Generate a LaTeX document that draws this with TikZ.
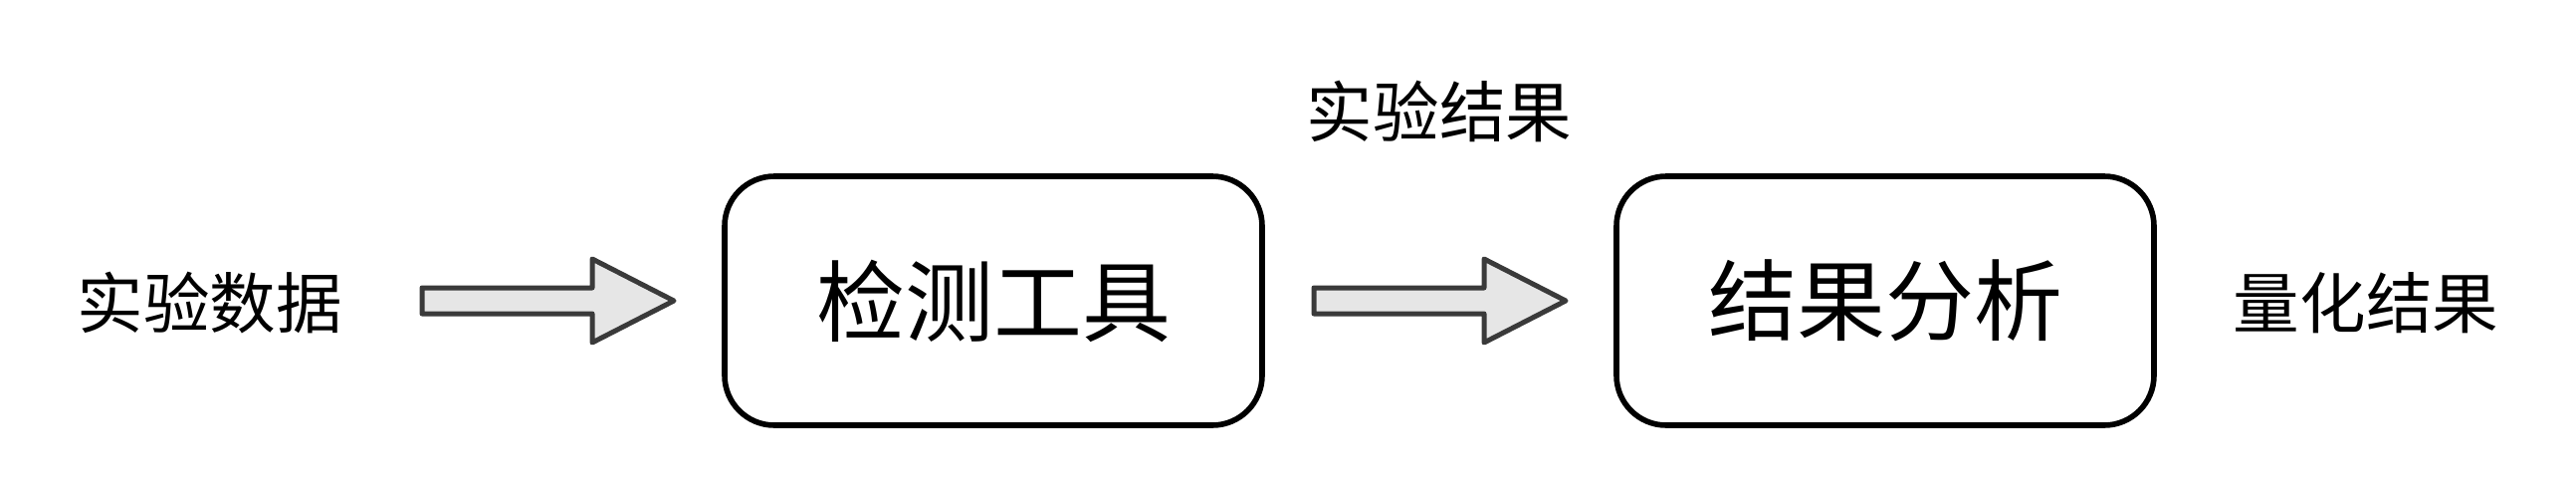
\documentclass[tikz,border=0pt]{standalone}
\usepackage{fontspec}
\newfontfamily\cjk{Noto Sans CJK SC}
\definecolor{arrowfill}{HTML}{E6E6E6}
\definecolor{arrowline}{HTML}{3A3A3A}
\tikzset{
  procbox/.style={draw=black, line width=2.8pt, rounded corners=25pt, minimum width=270pt, minimum height=125pt, inner sep=0pt, font=\cjk\fontsize{44.5pt}{50pt}\selectfont},
  lbl/.style={inner sep=0pt, font=\cjk\fontsize{33.3pt}{38pt}\selectfont},
  blockarrow/.style={draw=arrowline, fill=arrowfill, line width=2.5pt, line join=round},
  pics/fatarrow/.style={code={
    \draw[blockarrow] (0,-13) -- (171,-13) -- (171,-42) -- (253,0) -- (171,42) -- (171,13) -- (0,13) -- cycle;
  }}
}
\begin{document}
\begin{tikzpicture}[x=0.5pt, y=-0.5pt]
\path[use as bounding box, fill=white] (0,0) rectangle (2588,488);
\node[lbl] (in) at (211,304) {实验数据};
\pic (a1) at (424,302) {fatarrow};
\node[procbox] (tool) at (998,302) {检测工具};
\node[lbl] (mid) at (1446,112) {实验结果};
\pic (a2) at (1320,302) {fatarrow};
\node[procbox] (ana) at (1894,302) {结果分析};
\node[lbl] (out) at (2377,304) {量化结果};
\end{tikzpicture}
\end{document}
